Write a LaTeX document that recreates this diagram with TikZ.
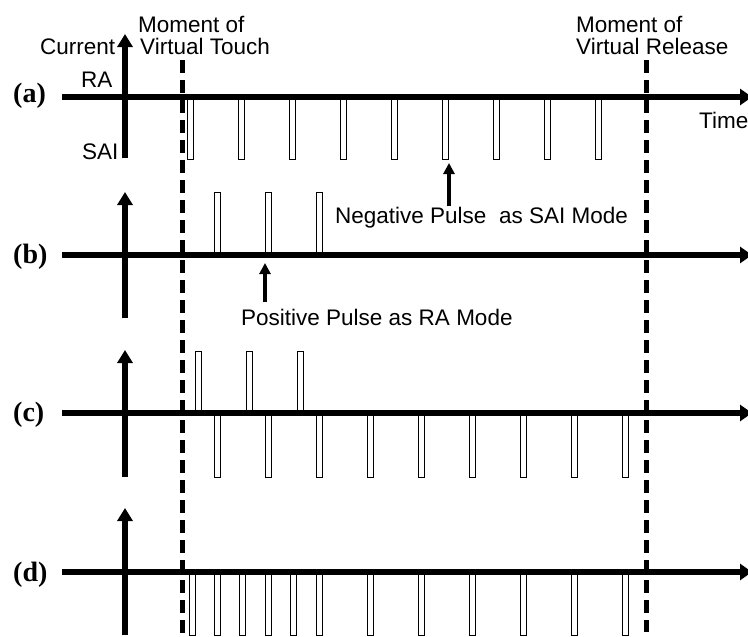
\documentclass[tikz,border=0pt]{standalone}
\usepackage{fontspec}
\setmainfont{Liberation Serif}
\setsansfont{Liberation Sans}
\usetikzlibrary{arrows.meta}

\tikzset{
  txt/.style={font=\sffamily\fontsize{22.5}{27}\selectfont, inner sep=0pt, anchor=base west},
  panel/.style={font=\rmfamily\bfseries\fontsize{28}{33}\selectfont, inner sep=0pt, anchor=base west},
  timeaxis/.style={line width=5.5pt, -{Triangle[length=12pt,width=16pt]}},
  curaxis/.style={line width=5.5pt, -{Triangle[length=13pt,width=15pt]}},
  moment/.style={line width=5pt, dash pattern=on 13pt off 7pt},
  pulsebox/.style={draw, line width=1pt, fill=white},
  pointer/.style={line width=3.5pt, -{Triangle[length=11pt,width=11pt]}},
}

\begin{document}
\begin{tikzpicture}[x=1pt, y=-1pt]
    \useasboundingbox (0,0) rectangle (748,637);

    % pulses
    \foreach \i in {0,...,8}
        \draw[pulsebox] ({190+51.1*\i-3},97) rectangle ++(6,62);
    \foreach \x in {217,268,319}
        \draw[pulsebox] (\x-3,192) rectangle ++(6,63);
    \foreach \x in {198,249,300}
        \draw[pulsebox] (\x-3,351) rectangle ++(6,62);
    \foreach \i in {0,...,8}
        \draw[pulsebox] ({217+51*\i-3},413) rectangle ++(6,64);
    \foreach \x in {192,217,242,268,293,319,370,421,472,523,574,625}
        \draw[pulsebox] (\x-3,572) rectangle ++(6,63);

    % axes of the four panels
    \foreach \p/\y/\top/\bot/\base in {a/97/34/158/102, b/255/192/318/263, c/413/350/477/421, d/572/508/635/581} {
        \coordinate (\p-start) at (62,\y);
        \coordinate (\p-end) at (752,\y);
        \coordinate (\p-top) at (125,\top);
        \coordinate (\p-bot) at (125,\bot);
        \draw[timeaxis] (\p-start) -- (\p-end);
        \draw[curaxis] (\p-bot) -- (\p-top);
        \node[panel] (\p-label) at (13,\base) {(\p)};
    }

    % moments of touch and release
    \coordinate (touch-top) at (182,60);
    \coordinate (touch-bot) at (182,637);
    \coordinate (release-top) at (646,60);
    \coordinate (release-bot) at (646,632);
    \draw[moment] (touch-top) -- (touch-bot);
    \draw[moment] (release-top) -- (release-bot);

    % labels
    \node[txt] (touch1) at (138,32) {Moment of};
    \node[txt] (touch2) at (140,54) {Virtual Touch};
    \node[txt] (release1) at (576,32) {Moment of};
    \node[txt] (release2) at (576,54) {Virtual Release};
    \node[txt] (current) at (40,54) {Current};
    \node[txt] (ra) at (81,87) {RA};
    \node[txt] (sai) at (82,159) {SAI};
    \node[txt] (time) at (699,128) {Time};

    % pulse notes
    \node[txt] (negnote) at (335,223) {Negative Pulse~ as SAI Mode};
    \node[txt] (posnote) at (241,325) {Positive Pulse as RA Mode};
    \coordinate (negtip) at (449,163);
    \coordinate (postip) at (265,263);
    \draw[pointer] (negnote.north -| negtip) -- (negtip);
    \draw[pointer] ([yshift=6pt]posnote.north -| postip) -- (postip);
\end{tikzpicture}
\end{document}
